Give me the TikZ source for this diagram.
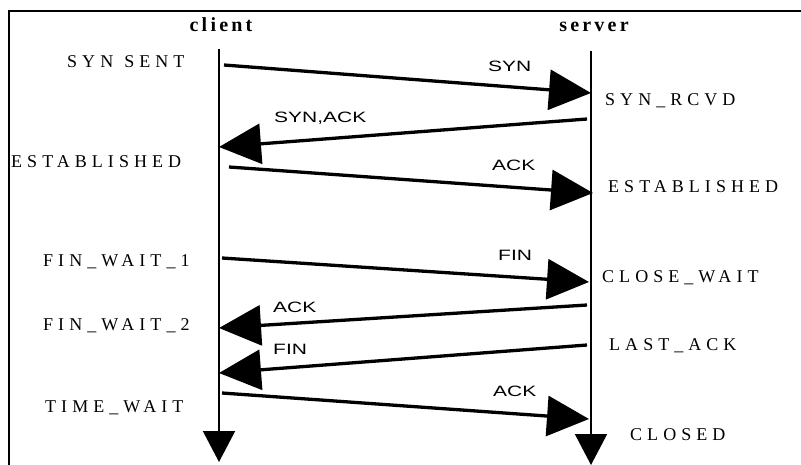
\documentclass[tikz,border=0pt]{standalone}
\usepackage{fontspec}
\setmainfont{Liberation Serif}
\newfontfamily\statefont[LetterSpace=28]{Liberation Serif}
\newfontfamily\partyfont[LetterSpace=16]{Liberation Serif}
\newfontfamily\msgfont[FakeStretch=1.4]{Liberation Sans}
\usetikzlibrary{arrows.meta}

\tikzset{
  lifeline/.style={line width=2pt, -{Triangle[length=31pt,width=32pt]}},
  msg/.style={line width=3.3pt, -{Triangle[length=42pt,width=40pt]}},
  state/.style={inner sep=0pt, anchor=base west,
    font=\statefont\fontsize{18}{20}\selectfont},
  party/.style={inner sep=0pt, anchor=base,
    font=\partyfont\bfseries\fontsize{20}{22}\selectfont},
  msglabel/.style={inner sep=0pt, anchor=base west,
    font=\msgfont\fontsize{15}{17}\selectfont},
}

\begin{document}
\begin{tikzpicture}[x=1pt, y=-1pt]
  \useasboundingbox (0,0) rectangle (801,464);
  \clip (0,0) rectangle (801,464);

  % outer frame (runs past the right and bottom edges)
  \draw[line width=1.5pt] (9,490) -- (9,11) -- (830,11);

  % parties
  \node[party] (client) at (221,31) {client};
  \node[party] (server) at (594,31) {server};

  % lifelines
  \coordinate (cltop) at (219,49);
  \coordinate (clbot) at (219,462);
  \coordinate (svtop) at (591,51);
  \coordinate (svbot) at (591,465);
  \draw[lifeline] (cltop) -- (clbot);
  \draw[lifeline] (svtop) -- (svbot);

  % client states
  \node[state] (synsent) at (67,67)   {\mbox{SYN}\hspace*{11pt}\mbox{SENT}};
  \node[state] (estc)    at (11,167)  {ESTABLISHED};
  \node[state] (fw1)     at (43,266)  {FIN\_WAIT\_1};
  \node[state] (fw2)     at (43,330)  {FIN\_WAIT\_2};
  \node[state] (tw)      at (45,412)  {TIME\_WAIT};

  % server states
  \node[state] (synrcvd) at (605,105) {SYN\_RCVD};
  \node[state] (ests)    at (608,192) {ESTABLISHED};
  \node[state] (cw)      at (602,282) {CLOSE\_WAIT};
  \node[state] (la)      at (609,350) {LAST\_ACK};
  \node[state] (closed)  at (630,440) {CLOSED};

  % message end points
  \coordinate (m1a) at (224,65);  \coordinate (m1b) at (591,93);
  \coordinate (m2a) at (587,119); \coordinate (m2b) at (219,147);
  \coordinate (m3a) at (229,167); \coordinate (m3b) at (593,193);
  \coordinate (m4a) at (222,258); \coordinate (m4b) at (589,282);
  \coordinate (m5a) at (587,305); \coordinate (m5b) at (219,328);
  \coordinate (m6a) at (587,345); \coordinate (m6b) at (219,373);
  \coordinate (m7a) at (222,393); \coordinate (m7b) at (589,419);

  \draw[msg] (m1a) -- (m1b);
  \draw[msg] (m2a) -- (m2b);
  \draw[msg] (m3a) -- (m3b);
  \draw[msg] (m4a) -- (m4b);
  \draw[msg] (m5a) -- (m5b);
  \draw[msg] (m6a) -- (m6b);
  \draw[msg] (m7a) -- (m7b);

  % message labels
  \node[msglabel] (l1) at (488,71)  {SYN};
  \node[msglabel] (l2) at (274,122) {SYN,ACK};
  \node[msglabel] (l3) at (492,170) {ACK};
  \node[msglabel] (l4) at (498,260) {FIN};
  \node[msglabel] (l5) at (273,312) {ACK};
  \node[msglabel] (l6) at (273,354) {FIN};
  \node[msglabel] (l7) at (493,396) {ACK};
\end{tikzpicture}
\end{document}
